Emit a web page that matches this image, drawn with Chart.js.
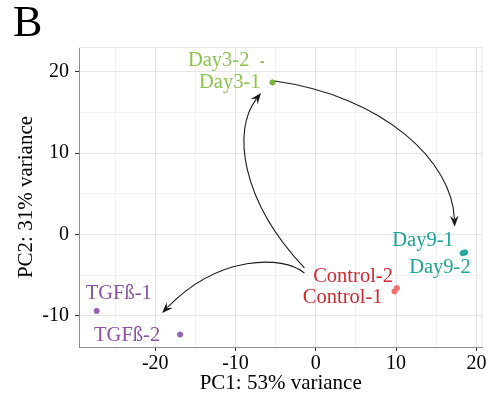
<!DOCTYPE html>
<html>
<head>
<meta charset="utf-8">
<script src="https://cdn.jsdelivr.net/npm/chart.js@4"></script>
<style>
  html, body { margin: 0; padding: 0; background: #ffffff; }
  #wrap { position: relative; width: 488px; height: 405px; }
  #panelLetter { position: absolute; left: 13px; top: -4px; font: 44px "Liberation Serif", serif; color: #000; }
</style>
</head>
<body>
<div id="wrap">
  <canvas id="c" width="488" height="405"></canvas>
  <div id="panelLetter">B</div>
</div>
<script>
// ---- data ----
const sampleLabels = ['Control-1', 'Control-2', 'Day3-1', 'Day3-2', 'Day9-1', 'Day9-2', 'TGFß-1', 'TGFß-2'];
const sampleGroups = ['Control', 'Control', 'Day3', 'Day3', 'Day9', 'Day9', 'TGFb', 'TGFb'];
const pc1Values = [9.8, 10.1, -5.4, -6.9, 18.3, 18.6, -27.3, -16.9];
const pc2Values = [-7.0, -6.6, 18.7, 21.2, -2.3, -2.2, -9.4, -12.3];
const xTickValues = [-20, -10, 0, 10, 20];
const yTickValues = [-10, 0, 10, 20];
const xAxisTitle = 'PC1: 53% variance';
const yAxisTitle = 'PC2: 31% variance';

// curved arrows (data coordinates): start, control points, end
const arrowPaths = [
  { p0: [-5.11, 18.88], c1: [8.5, 17.0], c2: [17.0, 9.0], p1: [17.3, 0.95] },
  { p0: [-1.42, -4.12], c1: [-9.4, 4.24], c2: [-10.4, 12.85], p1: [-6.83, 17.40] },
  { p0: [-1.42, -4.74], c1: [-4.13, -2.52], c2: [-12.13, -2.52], p1: [-19.15, -9.66] }
];

// ---- styles ----
const pointColors = { Control: '#F07070', Day3: '#7DB343', Day9: '#23A99B', TGFb: '#9166B0' };
const labelColors = { Control: '#D1262E', Day3: '#8CC34F', Day9: '#1AA597', TGFb: '#8C51A5' };
// label offsets in pixels relative to the point, with alignment
const labelOffsets = [
  { dx: -12, dy: 6, align: 'right' },
  { dx: -4, dy: -12, align: 'right' },
  { dx: -12, dy: 0.5, align: 'right' },
  { dx: -11, dy: -2, align: 'right' },
  { dx: -9, dy: -13, align: 'right' },
  { dx: 5.5, dy: 15, align: 'right' },
  { dx: -11, dy: -17, align: 'left' },
  { dx: -20, dy: 1.5, align: 'right' }
];

const serif = '"Liberation Serif", "Times New Roman", serif';

const points = pc1Values.map((x, i) => ({ x: x, y: pc2Values[i] }));

const overlayPlugin = {
  id: 'overlay',
  afterDatasetsDraw(chart) {
    const ctx = chart.ctx;
    const xs = chart.scales.x, ys = chart.scales.y;
    const P = (p) => [xs.getPixelForValue(p[0]), ys.getPixelForValue(p[1])];
    ctx.save();
    // arrows
    ctx.strokeStyle = '#1a1a1a';
    ctx.fillStyle = '#1a1a1a';
    ctx.lineWidth = 1.1;
    arrowPaths.forEach(a => {
      const p0 = P(a.p0), c1 = P(a.c1), c2 = P(a.c2), p1 = P(a.p1);
      const ang = Math.atan2(p1[1] - c2[1], p1[0] - c2[0]);
      const L = 11, W = 4.3;
      const bx = p1[0] - Math.cos(ang) * L * 0.7, by = p1[1] - Math.sin(ang) * L * 0.7;
      ctx.beginPath();
      ctx.moveTo(p0[0], p0[1]);
      ctx.bezierCurveTo(c1[0], c1[1], c2[0], c2[1], bx, by);
      ctx.stroke();
      // arrow head
      const backX = p1[0] - Math.cos(ang) * L, backY = p1[1] - Math.sin(ang) * L;
      const nx = -Math.sin(ang), ny = Math.cos(ang);
      ctx.beginPath();
      ctx.moveTo(p1[0], p1[1]);
      ctx.lineTo(backX + nx * W, backY + ny * W);
      ctx.lineTo(p1[0] - Math.cos(ang) * L * 0.65, p1[1] - Math.sin(ang) * L * 0.65);
      ctx.lineTo(backX - nx * W, backY - ny * W);
      ctx.closePath();
      ctx.fill();
    });
    // labels
    ctx.font = '20.5px ' + serif;
    ctx.textBaseline = 'middle';
    sampleLabels.forEach((lab, i) => {
      const px = xs.getPixelForValue(pc1Values[i]);
      const py = ys.getPixelForValue(pc2Values[i]);
      const o = labelOffsets[i];
      ctx.fillStyle = labelColors[sampleGroups[i]];
      ctx.textAlign = o.align;
      ctx.fillText(lab, px + o.dx, py + o.dy);
    });
    // faint top/right panel edges
    const ca = chart.chartArea;
    ctx.strokeStyle = '#E6E6E6';
    ctx.lineWidth = 1;
    ctx.beginPath();
    ctx.moveTo(ca.left, ca.top + 0.5);
    ctx.lineTo(ca.right, ca.top + 0.5);
    ctx.moveTo(ca.right - 0.5, ca.top);
    ctx.lineTo(ca.right - 0.5, ca.bottom);
    ctx.stroke();
    ctx.restore();
  }
};

const minorGrid = (v) => Math.abs(v % 10) > 0.01;

new Chart(document.getElementById('c'), {
  type: 'scatter',
  data: {
    datasets: [{
      data: points,
      pointBackgroundColor: sampleGroups.map(g => pointColors[g]),
      pointBorderColor: sampleGroups.map(g => pointColors[g]),
      pointRadius: sampleLabels.map((l, i) => (i === 3 ? 3.5 : 2.6)),
      pointStyle: sampleLabels.map((l, i) => (i === 3 ? 'dash' : 'circle')),
      pointBorderWidth: sampleLabels.map((l, i) => (i === 3 ? 1.6 : 1))
    }]
  },
  plugins: [overlayPlugin],
  options: {
    responsive: false,
    animation: false,
    layout: { padding: { left: 0, right: 1, top: 47, bottom: 0 } },
    plugins: { legend: { display: false }, tooltip: { enabled: false } },
    scales: {
      x: {
        type: 'linear',
        min: -29.5,
        max: 20.75,
        afterBuildTicks: (s) => { s.ticks = [-25, -20, -15, -10, -5, 0, 5, 10, 15, 20].map(v => ({ value: v })); },
        afterFit: (s) => { s.height = 58; },
        grid: {
          color: (c) => minorGrid(c.tick.value) ? '#F0F0F0' : '#E6E6E6',
          lineWidth: 1,
          tickLength: 4,
          tickColor: (c) => minorGrid(c.tick.value) ? 'rgba(0,0,0,0)' : '#333333'
        },
        border: { color: '#8C8C8C', width: 1 },
        ticks: {
          autoSkip: false,
          maxRotation: 0,
          padding: 1,
          color: '#000',
          font: { family: serif, size: 20 },
          callback: (v) => xTickValues.includes(v) ? String(v) : ''
        },
        title: {
          display: true,
          text: xAxisTitle,
          color: '#000',
          font: { family: serif, size: 21 },
          padding: { top: 0, bottom: 9 }
        }
      },
      y: {
        type: 'linear',
        min: -13.84,
        max: 23.06,
        afterBuildTicks: (s) => { s.ticks = [-10, -5, 0, 5, 10, 15, 20].map(v => ({ value: v })); },
        afterFit: (s) => { s.width = 79; },
        grid: {
          color: (c) => minorGrid(c.tick.value) ? '#F0F0F0' : '#E6E6E6',
          lineWidth: 1,
          tickLength: 4,
          tickColor: (c) => minorGrid(c.tick.value) ? 'rgba(0,0,0,0)' : '#333333'
        },
        border: { color: '#8C8C8C', width: 1 },
        ticks: {
          autoSkip: false,
          padding: 6,
          color: '#000',
          font: { family: serif, size: 20 },
          callback: (v) => yTickValues.includes(v) ? String(v) : ''
        },
        title: {
          display: true,
          text: yAxisTitle,
          color: '#000',
          font: { family: serif, size: 21 },
          padding: { top: 14, bottom: 0 }
        }
      }
    }
  }
});
</script>
</body>
</html>
